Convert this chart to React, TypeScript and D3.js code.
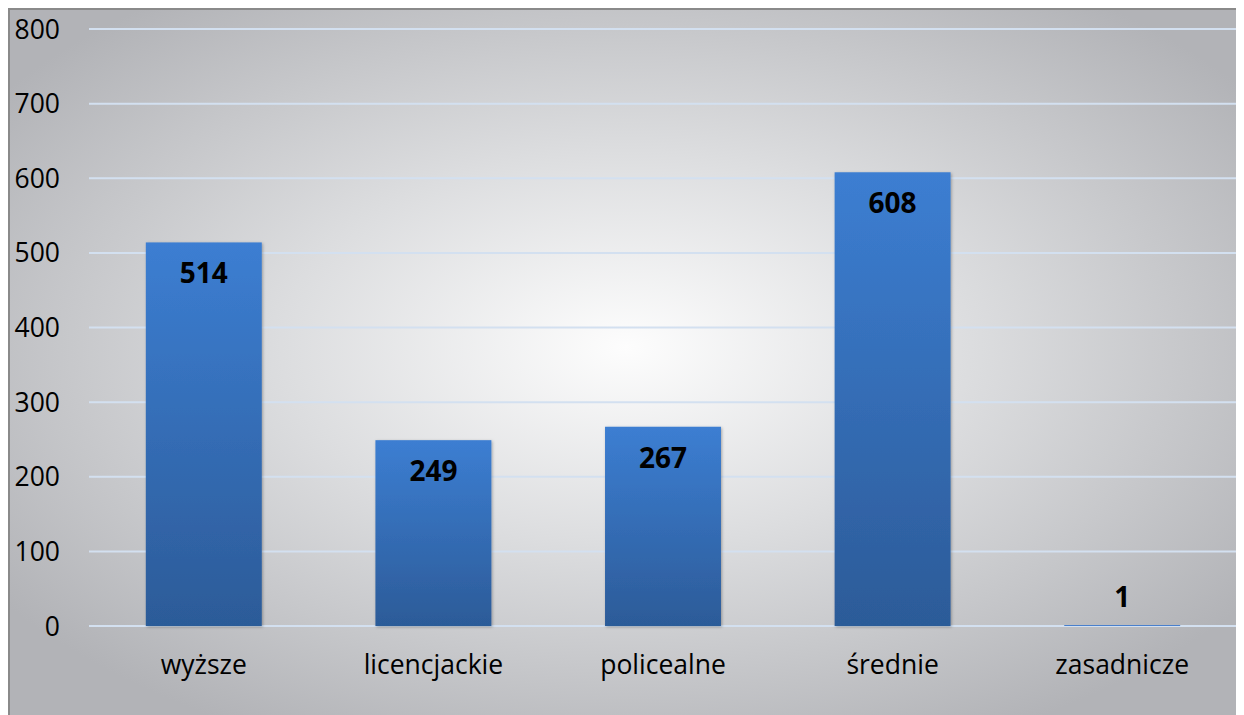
import React from "react";
import * as d3 from "d3";

const categories = ["wyższe", "licencjackie", "policealne", "średnie", "zasadnicze"];
const values = [514, 249, 267, 608, 1];
const yTicks = [0, 100, 200, 300, 400, 500, 600, 700, 800];

export default function App() {
  const W = 1236;
  const H = 707;
  const ox = 8, oy = 8;
  const left = 89 - ox, right = 1237 - ox;
  const top = 29 - oy, bottom = 626 - oy;
  const x = d3.scaleBand<string>().domain(categories).range([left, right]).paddingInner(0.495).paddingOuter(0.2475);
  const y = d3.scaleLinear().domain([0, 800]).range([bottom, top]);
  const font = "'Open Sans', 'Noto Sans', sans-serif";
  return (
    <svg width={W} height={H} style={{ display: "block" }}>
      <defs>
        <radialGradient id="bg" cx="50%" cy="48%" r="62%" fx="50%" fy="48%">
          <stop offset="0%" stopColor="#fdfdfd" />
          <stop offset="45%" stopColor="#dcdddf" />
          <stop offset="100%" stopColor="#b2b3b7" />
        </radialGradient>
        <linearGradient id="bar" x1="0" y1="0" x2="0" y2="1">
          <stop offset="0%" stopColor="#3c7ed2" />
          <stop offset="100%" stopColor="#2c5b98" />
        </linearGradient>
        <filter id="sh" x="-10%" y="-10%" width="120%" height="120%">
          <feDropShadow dx="1" dy="1" stdDeviation="1.5" floodColor="#000" floodOpacity="0.3" />
        </filter>
      </defs>
      <rect x={0} y={0} width={W} height={H} fill="url(#bg)" />
      <rect x={1} y={1} width={W + 10} height={H + 10} fill="none" stroke="#8a8a8a" strokeWidth={2} />
      {yTicks.map((t) => (
        <g key={t}>
          <line x1={left} x2={right} y1={y(t)} y2={y(t)} stroke="#d3e0f0" strokeWidth={2} />
          <text x={60 - ox} y={y(t)} dy="0.36em" textAnchor="end" fontFamily={font} fontSize={26.5} fill="#000">
            {t}
          </text>
        </g>
      ))}
      {categories.map((c, i) => {
        const bx = x(c)!;
        const by = y(values[i]);
        const bh = Math.max(bottom - by, 1);
        return (
          <g key={c}>
            <rect
              x={bx}
              y={bottom - bh}
              width={x.bandwidth()}
              height={bh}
              fill={values[i] > 50 ? "url(#bar)" : "#4a80cc"}
              filter={values[i] > 50 ? "url(#sh)" : undefined}
            />
            <text
              x={bx + x.bandwidth() / 2}
              y={values[i] > 50 ? by + 41 : by - 18}
              textAnchor="middle"
              fontFamily={font}
              fontWeight="bold"
              fontSize={28}
              fill="#000"
            >
              {values[i]}
            </text>
            <text x={bx + x.bandwidth() / 2} y={bottom + 48} textAnchor="middle" fontFamily={font} fontSize={26.5} fill="#000">
              {c}
            </text>
          </g>
        );
      })}
    </svg>
  );
}
